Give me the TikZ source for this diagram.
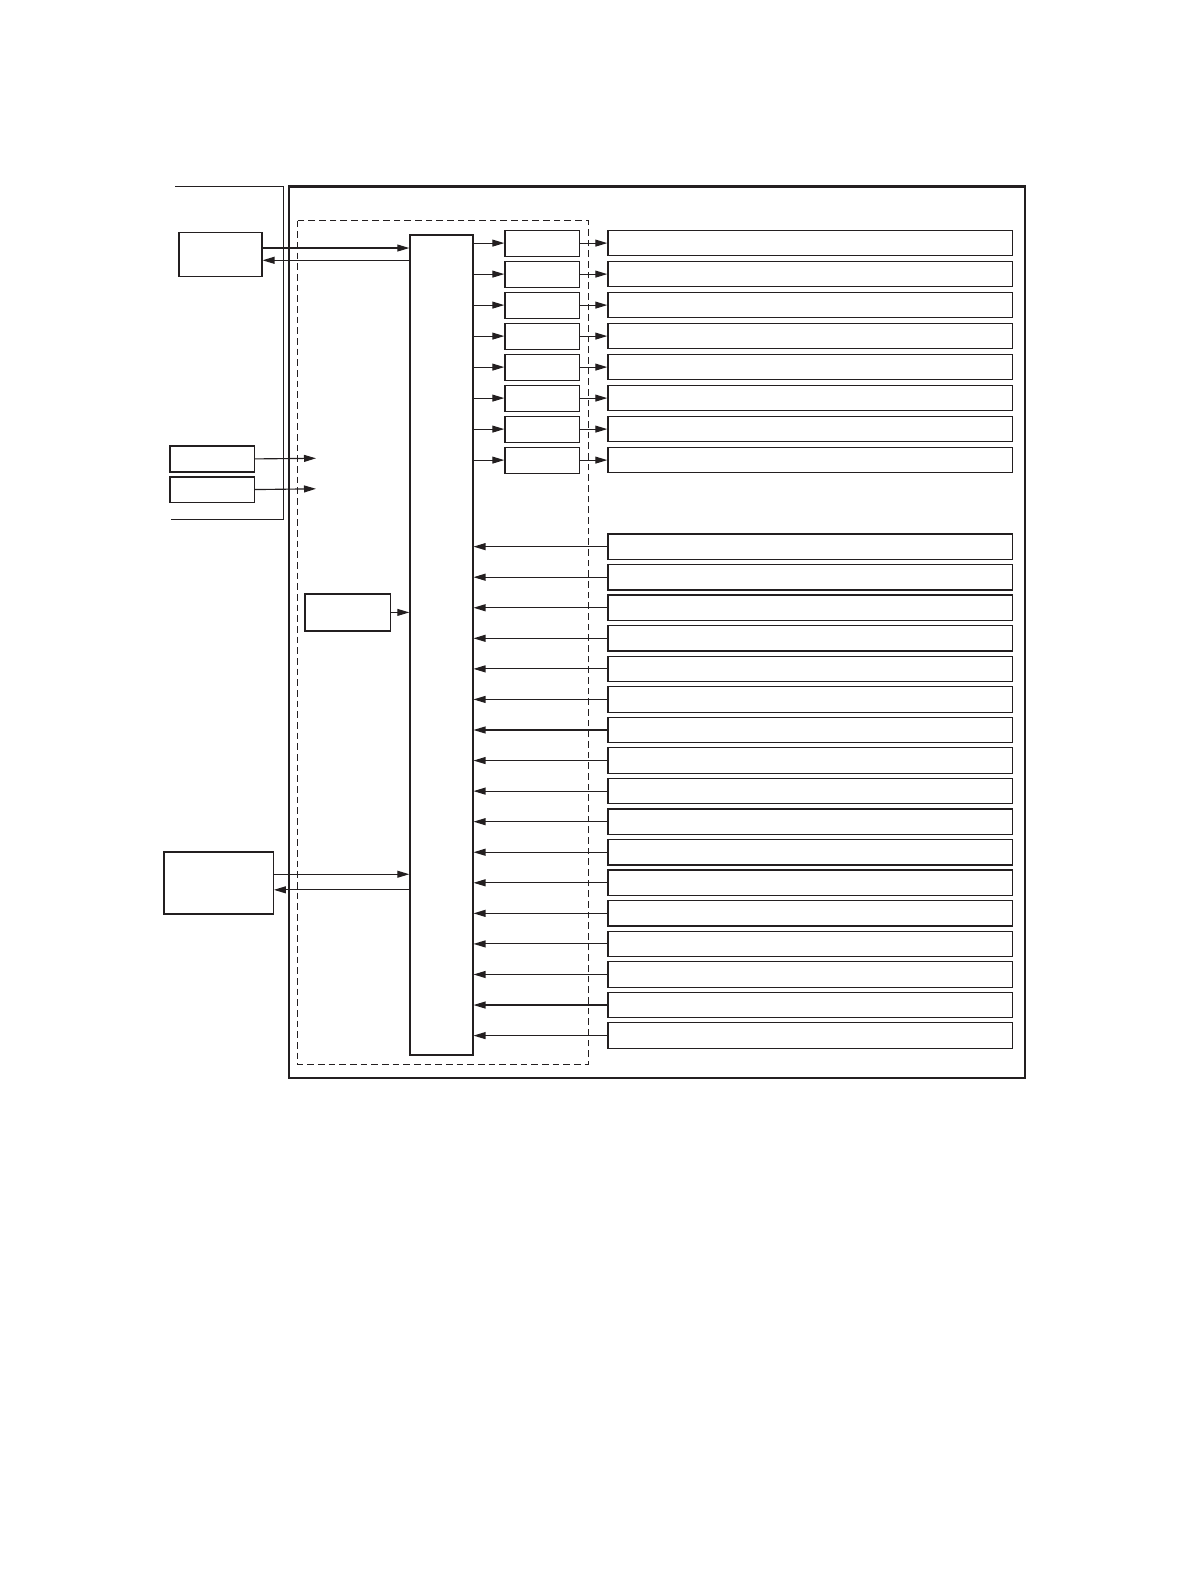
\documentclass[tikz,border=0pt]{standalone}
\usetikzlibrary{arrows.meta}
\definecolor{ink}{RGB}{35,31,32}
\tikzset{every picture/.style={line width=0.75pt}}
\tikzset{
  blk/.style={draw=ink, line width=0.9pt, inner sep=0pt, anchor=north west, rectangle},
  sig/.style={draw=ink, line width=0.85pt, -{Triangle[length=9pt,width=5.2pt]}},
}

\begin{document}
\begin{tikzpicture}[x=0.75pt,y=0.75pt,yscale=-1,xscale=1]
	\useasboundingbox (0,0) rectangle (1190,1584);
	
	%Shape: open frame on the left
	\draw [ink, line width=0.8pt] (175,186.7) -- (283.7,186.7) -- (283.7,519.3) -- (171,519.3) ;
	%Shape: outer frame
	\draw [ink, line width=1.6pt] (288.7,186.5) rectangle (1025,1077.7) ;
	%Shape: dashed frame
	\draw [ink, dash pattern=on 5pt off 3pt] (297.5,220.7) rectangle (588,1064.3) ;
	
	%Boxes
	\node [blk, minimum width=62.25pt, minimum height=33.2pt] (host) at (178.3,231.7) {};
	\node [blk, minimum width=63.3pt, minimum height=19.5pt] (key1) at (169.3,445.3) {};
	\node [blk, minimum width=63.3pt, minimum height=19pt] (key2) at (169.3,476.3) {};
	\node [blk, minimum width=47.25pt, minimum height=615pt] (ctrl) at (409.3,234.3) {};
	\node [blk, minimum width=64.05pt, minimum height=27.75pt] (clk) at (304.3,593.3) {};
	\node [blk, minimum width=82.05pt, minimum height=46.5pt] (pc) at (163.3,851.3) {};
	\foreach \i in {0,...,7} {
		\node [blk, minimum width=55.8pt, minimum height=19.5pt] (drv\i) at (504.3,{229.5+31*\i}) {};
		\node [blk, minimum width=303.15pt, minimum height=19.1pt] (act\i) at (607.3,{229.8+31*\i}) {};
	}
	\foreach \i in {0,...,16}
		\node [blk, minimum width=303.15pt, minimum height=19.1pt] (sen\i) at (607.3,{533.3+30.56*\i}) {};
	
	%Connectors
	\coordinate (h1) at ([yshift=-4.8pt]host.east);
	\coordinate (h2) at ([yshift=4.4pt]host.east);
	\draw [sig] (h1) -- (h1 -| ctrl.west) ;
	\draw [sig] (h2 -| ctrl.west) -- (h2) ;
	\coordinate (k1) at (316,458.3);
	\coordinate (k2) at (316,488.8);
	\draw [sig] (key1.east) -- (k1) ;
	\draw [sig] (key2.east) -- (k2) ;
	\draw [sig] (clk.east) -- (clk.east -| ctrl.west) ;
	\coordinate (p1) at ([yshift=-6.5pt]pc.east);
	\coordinate (p2) at ([yshift=5.2pt]pc.east);
	\draw [sig] (p1) -- (p1 -| ctrl.west) ;
	\draw [sig] (p2 -| ctrl.west) -- (p2) ;
	\foreach \i in {0,...,7} {
		\draw [sig] (drv\i.west -| ctrl.east) -- (drv\i.west) ;
		\draw [sig] (drv\i.east) -- (drv\i.east -| act\i.west) ;
	}
	\foreach \i in {0,...,16}
		\draw [sig] (sen\i.west) -- (sen\i.west -| ctrl.east) ;
	
\end{tikzpicture}
\end{document}
